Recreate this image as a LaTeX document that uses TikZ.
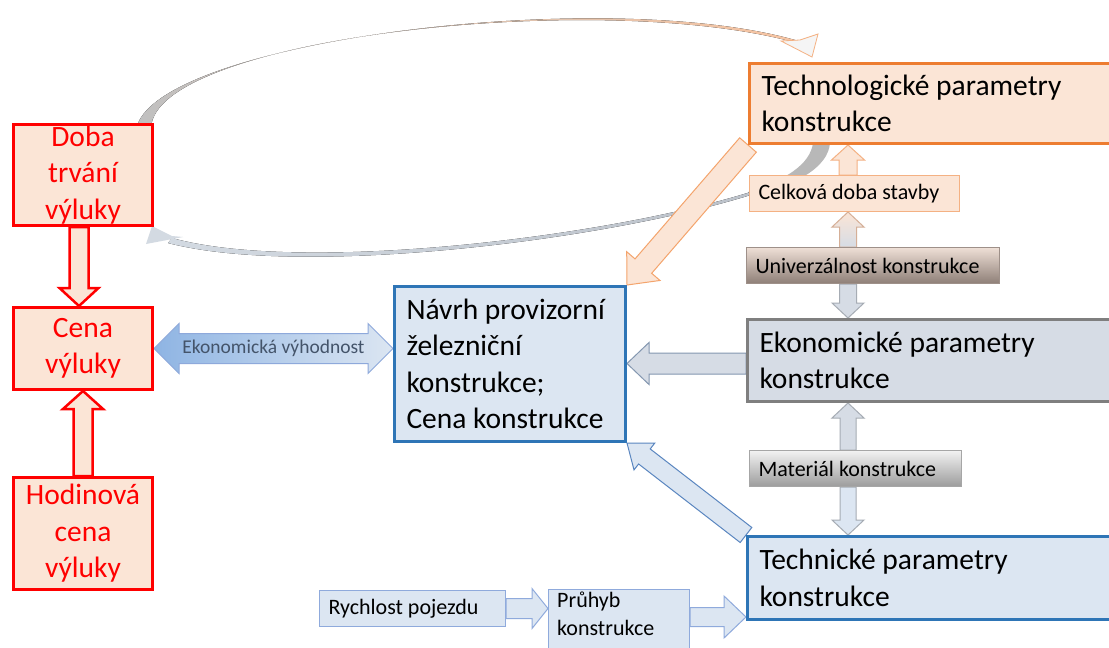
\documentclass[tikz,border=0pt]{standalone}
\usepackage{fontspec}
\setmainfont{Carlito}
\usetikzlibrary{calc}
\definecolor{peach}{HTML}{FBE5D6}
\definecolor{orangeb}{HTML}{ED7D31}
\definecolor{orangel}{HTML}{F4B183}
\definecolor{arrorange}{HTML}{F4A46C}
\definecolor{navyblue}{HTML}{2E75B6}
\definecolor{lightblue}{HTML}{DCE6F2}
\definecolor{grayb}{HTML}{7F7F7F}
\definecolor{ekonfill}{HTML}{D6DCE5}
\definecolor{lightb}{HTML}{8FAADC}
\definecolor{univtop}{HTML}{EEDFD6}
\definecolor{univbot}{HTML}{8E7F77}
\definecolor{univb}{HTML}{9E9089}
\definecolor{mattop}{HTML}{F2F2F2}
\definecolor{matbot}{HTML}{9C9C9C}
\definecolor{matb}{HTML}{A6A6A6}
\definecolor{labelc}{HTML}{44546A}
\definecolor{ekleft}{HTML}{8EB4E3}
\definecolor{ekdraw}{HTML}{8EA9DB}
\definecolor{grayarr}{HTML}{A6ACB4}
\definecolor{bluearr}{HTML}{5A86C0}
\definecolor{slatearr}{HTML}{8497B0}
\definecolor{curvelight}{HTML}{D3DAE2}
\definecolor{curvemid}{HTML}{BCC2CA}
\definecolor{curvethick}{HTML}{B8B8B8}
\definecolor{arcgray}{HTML}{C0C0C0}
\definecolor{arcmid}{HTML}{E2BFA6}
\pgfdeclarelayer{bg}
\pgfsetlayers{bg,main}
% #1 style, #2 start, #3 end, #4 half shaft, #5 half head, #6 head length
\newcommand{\blockarr}[6]{%
  \coordinate (bac) at ($(#3)!#6!(#2)$);
  \draw[#1] ($(#2)!#4!90:(#3)$) -- ($(bac)!#4!90:(#3)$) -- ($(bac)!#5!90:(#3)$) -- (#3)
    -- ($(bac)!#5!-90:(#3)$) -- ($(bac)!#4!-90:(#3)$) -- ($(#2)!#4!-90:(#3)$) -- cycle;
}
\newcommand{\dblockarr}[6]{%
  \coordinate (bac) at ($(#3)!#6!(#2)$);
  \coordinate (bad) at ($(#2)!#6!(#3)$);
  \draw[#1] (#2) -- ($(bad)!#5!90:(#3)$) -- ($(bad)!#4!90:(#3)$) -- ($(bac)!#4!90:(#3)$)
    -- ($(bac)!#5!90:(#3)$) -- (#3) -- ($(bac)!#5!-90:(#3)$) -- ($(bac)!#4!-90:(#3)$)
    -- ($(bad)!#4!-90:(#3)$) -- ($(bad)!#5!-90:(#3)$) -- cycle;
}
\newcommand{\natspaces}{\spaceskip=0pt\xspaceskip=0pt\relax}
\tikzset{
  big/.style={font=\fontsize{29.5}{36.5}\selectfont},
  small/.style={font=\fontsize{22}{27}\selectfont},
  redbox/.style={draw=red, line width=3pt, fill=peach, text=red, align=center,
    anchor=north west, inner xsep=2pt, inner ysep=0pt, big},
  parbox/.style={line width=3pt, anchor=north west, inner xsep=12pt, inner ysep=0pt, big,
    execute at begin node=\natspaces},
  smallbox/.style={line width=1pt, anchor=north west, inner xsep=9pt, inner ysep=0pt, small,
    execute at begin node=\natspaces},
  redarrow/.style={draw=red, line width=2.5pt, fill=peach},
  orarrow/.style={draw=arrorange, line width=1pt, fill=peach},
  peacharrow/.style={draw=orangel, line width=1pt, fill=peach},
  mixarrow/.style={draw=orangel!60!grayarr, line width=1pt, top color=peach, bottom color=ekonfill},
  grayarrow/.style={draw=grayarr, line width=1pt, fill=ekonfill},
  grayarrowb/.style={draw=grayarr, line width=1pt, fill=lightblue},
  slatearrow/.style={draw=slatearr, line width=1pt, fill=ekonfill},
  bluearrow/.style={draw=bluearr, line width=1pt, fill=lightblue},
  lbarrow/.style={draw=lightb, line width=1pt, fill=lightblue},
  ekarrow/.style={draw=ekdraw, line width=1pt, left color=ekleft, right color=lightblue},
}
\begin{document}
\begin{tikzpicture}[x=1pt,y=-1pt,line join=miter]
\useasboundingbox (0,0) rectangle (1109,648);
\clip (0,0) rectangle (1109,648);

% ---------- boxes ----------
\node[redbox, text width=135pt, minimum height=101pt] (doba) at (12,123) {Doba\\trvání\\výluky};
\node[redbox, text width=135pt, minimum height=82pt] (cena) at (12,306) {Cena\\výluky};
\node[redbox, text width=135pt, minimum height=112pt] (hod) at (12,476) {Hodinová\\cena\\výluky};

\node[parbox, draw=navyblue, fill=lightblue, text width=207pt, minimum height=155pt] (navrh) at (393,285)
  {\natspaces Návrh provizorní\\železniční\\konstrukce;\\Cena konstrukce};
\node[parbox, draw=orangeb, fill=peach, text width=400pt, minimum height=80pt] (techno) at (748,62)
  {\natspaces Technologické parametry\\konstrukce};
\node[parbox, draw=grayb, fill=ekonfill, text width=400pt, minimum height=82pt] (ekon) at (746,318)
  {\natspaces Ekonomické parametry\\konstrukce};
\node[parbox, draw=navyblue, fill=lightblue, text width=400pt, minimum height=83pt] (techn) at (746,535)
  {\natspaces Technické parametry\\konstrukce};

\node[smallbox, draw=orangel, fill=peach, text width=192pt, minimum height=36pt] (celk) at (749,175) {\natspaces Celková doba stavby};
\node[smallbox, draw=univb, top color=univtop, bottom color=univbot, text width=235pt, minimum height=36pt] (univ) at (746,247) {\natspaces Univerzálnost konstrukce};
\node[smallbox, draw=matb, top color=mattop, bottom color=matbot, text width=194pt, minimum height=36pt] (mat) at (749,450) {\natspaces Materiál konstrukce};
\node[smallbox, draw=lightb, fill=lightblue, text width=168pt, minimum height=36pt] (rych) at (319,590) {\natspaces Rychlost pojezdu};
\node[smallbox, draw=lightb, fill=lightblue, minimum width=141pt, minimum height=70pt] (pruh) at (548,589) {};
\node[anchor=north west, inner sep=0pt, text width=130pt, font=\fontsize{22}{28}\selectfont] (pruht)
  at ($(pruh.north west)+(9,3)$) {Průhyb\\konstrukce};

% ---------- connectors (behind boxes) ----------
\begin{pgfonlayer}{bg}
  \fill[white] (0,0) rectangle (1109,648);
  % top curved arrow: Doba -> Technologicke
  \fill[left color=arcgray, middle color=arcmid, right color=orangel!75] (136,130) .. controls (150,42) and (600,-15) .. (795,40)
    -- (797,43) .. controls (600,-12) and (154,38) .. (151,128) -- cycle;
  \filldraw[fill=gray!8, draw=orangel, line width=0.8pt] (781,41) -- (812,57) -- (818,34) -- (800,40) -- cycle;
  % bottom curved arrow: Technologicke -> Doba
  \fill[curvethick] (813,143) .. controls (810,165) and (785,180) .. (748,192)
    -- (748,196) .. controls (795,186) and (828,168) .. (830,143) -- cycle;
  \fill[left color=curvelight, right color=curvemid] (749,192.5) .. controls (600,238.5) and (300,273.5) .. (172,238)
    -- (168,243) .. controls (300,277.5) and (600,241.5) .. (749,195.5) -- cycle;
  \fill[curvelight] (152,226) -- (146,244) -- (183,237) -- (172,236) -- cycle;

  % red arrows
  \coordinate (d1) at ([xshift=-4pt]doba.south);
  \coordinate (d2) at ([xshift=-4pt]cena.north);
  \blockarr{redarrow}{d1}{d2}{9.5pt}{19.5pt}{18pt}
  \blockarr{redarrow}{hod.north}{cena.south}{9.5pt}{20pt}{18pt}

  % Ekonomicka vyhodnost
  \coordinate (e2) at (navrh.west |- cena.east);
  \dblockarr{ekarrow}{cena.east}{e2}{15pt}{25pt}{25pt}

  % orange diagonal
  \blockarr{orarrow}{techno.south west}{navrh.north east}{11pt}{22pt}{25pt}

  % vertical column
  \coordinate (cx) at (848,0);
  \coordinate (a1) at (cx |- celk.north);
  \coordinate (a2) at (cx |- techno.south);
  \blockarr{peacharrow}{a1}{a2}{9pt}{16.5pt}{15pt}
  \coordinate (a3) at (cx |- univ.north);
  \coordinate (a4) at (cx |- celk.south);
  \blockarr{mixarrow}{a3}{a4}{8.5pt}{16pt}{15pt}
  \coordinate (a5) at (cx |- univ.south);
  \coordinate (a6) at (cx |- ekon.north);
  \blockarr{grayarrow}{a5}{a6}{8.5pt}{16pt}{15pt}
  \coordinate (a7) at (cx |- mat.north);
  \coordinate (a8) at (cx |- ekon.south);
  \blockarr{grayarrow}{a7}{a8}{8pt}{16pt}{15pt}
  \coordinate (a9) at (cx |- mat.south);
  \coordinate (a10) at (cx |- techn.north);
  \blockarr{grayarrowb}{a9}{a10}{8pt}{16pt}{15pt}

  % Ekonomicke -> Navrh
  \coordinate (b1) at ([yshift=-3pt]ekon.west);
  \coordinate (b2) at (navrh.east |- b1);
  \blockarr{slatearrow}{b1}{b2}{10.5pt}{21pt}{22pt}

  % Technicke -> Navrh
  \blockarr{bluearrow}{techn.north west}{navrh.south east}{9.5pt}{17pt}{22pt}

  % Rychlost -> Pruhyb -> Technicke
  \coordinate (r2) at (pruh.west |- rych.east);
  \blockarr{lbarrow}{rych.east}{r2}{10pt}{20pt}{16pt}
  \coordinate (p1) at ($(pruh.north east)+(0,28)$);
  \coordinate (p2) at (techn.west |- p1);
  \blockarr{lbarrow}{p1}{p2}{9.5pt}{21pt}{22pt}
\end{pgfonlayer}

\node[font=\fontsize{19.5}{22}\selectfont, text=labelc, inner sep=0pt] (ekl)
  at ($(cena.east)!0.5!(e2)$) {Ekonomická výhodnost};
\end{tikzpicture}
\end{document}
